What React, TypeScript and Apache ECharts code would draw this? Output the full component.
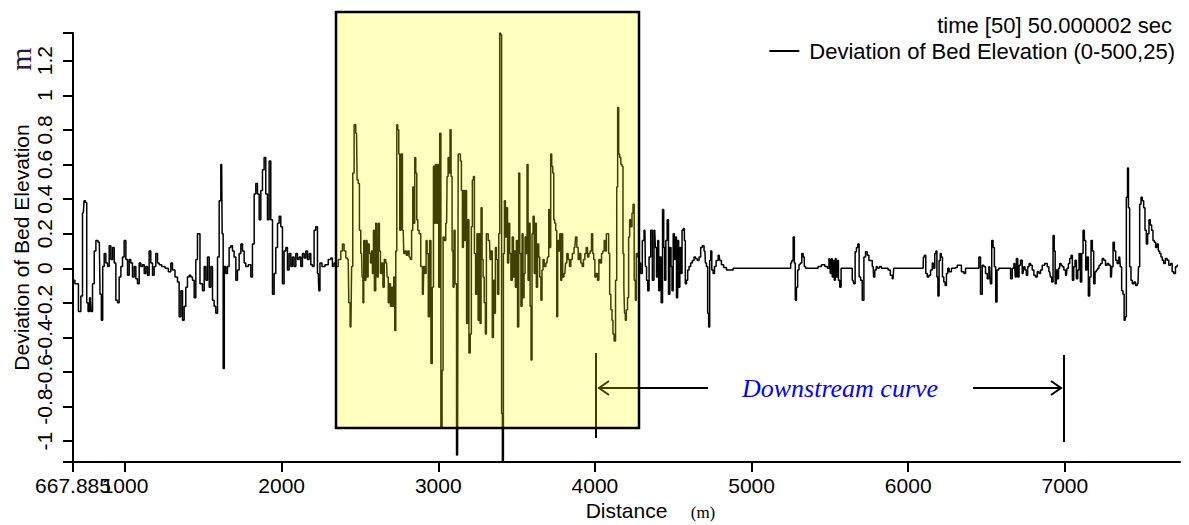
import React, { useEffect, useRef } from "react";
import * as echarts from "echarts";

const seriesName = "Deviation of Bed Elevation (0-500,25)";
const timeLabel = "time [50] 50.000002 sec";

// [distance (m), deviation (m)]
const reachA: [number, number][] = [
  [668, -0.07], [692, -0.09], [713, -0.25], [723, -0.16], [734, 0.32], [743, 0.39], [751, 0.38], [760, -0.2],
  [768, -0.25], [779, -0.17], [787, -0.25], [798, -0.09], [809, 0.1], [819, 0.16], [836, 0.15], [845, -0.15],
  [853, -0.3], [862, 0.01], [872, 0.085], [883, 0.03], [894, 0.01], [904, 0.13], [915, 0.05], [926, 0.12],
  [936, 0.03], [947, -0.185], [957, -0.2], [968, -0.05], [979, 0.01], [989, 0.065], [1000, 0.16], [1011, 0.05],
  [1021, -0.04], [1032, 0.05], [1042, 0.03], [1053, -0.05], [1064, 0.01], [1074, -0.06], [1085, -0.09], [1096, 0.03],
  [1106, 0.01], [1117, 0.02], [1128, -0.03], [1138, 0.01], [1149, -0.04], [1159, 0.1], [1170, 0.03], [1181, -0.04],
  [1191, 0.01], [1202, 0.085], [1213, 0.03], [1223, 0.02], [1245, 0.01], [1266, 0], [1287, -0.02], [1298, 0.03],
  [1308, -0.01], [1330, -0.05], [1340, -0.08], [1351, -0.28], [1362, -0.13], [1372, -0.3], [1383, -0.22], [1393, -0.11],
  [1404, -0.05], [1415, -0.04], [1425, -0.05], [1436, -0.07], [1447, -0.17], [1457, 0.05], [1468, 0.2],
];

const reachB: [number, number][] = [
  [1489, -0.09], [1500, -0.13], [1511, 0.01], [1521, -0.07], [1532, 0.065], [1543, -0.11], [1553, 0.01], [1564, -0.185],
  [1574, -0.22], [1585, -0.26], [1596, 0.065], [1606, 0.39], [1617, 0.6], [1623, 0.2], [1630, -0.58], [1638, 0.01],
  [1649, -0.03], [1659, 0.01], [1670, 0.12], [1681, 0.13], [1691, 0.1], [1702, 0.065], [1713, -0.07], [1723, -0.01],
  [1734, 0.085], [1745, 0.14], [1755, 0.1], [1766, 0.03], [1776, 0.01], [1798, 0.02], [1808, -0.05], [1819, 0.14],
  [1830, 0.43], [1840, 0.49], [1851, 0.43], [1862, 0.28], [1872, 0.45], [1883, 0.57], [1893, 0.64], [1904, 0.43],
  [1915, 0.28], [1925, 0.62], [1936, 0.28], [1947, -0.15], [1957, -0.03], [1968, 0.12], [1979, 0.26], [1989, 0.3],
  [2000, 0.24], [2010, -0.09], [2021, 0.1], [2032, 0.12], [2042, -0.01], [2053, 0.085], [2064, 0.01], [2074, 0.065],
  [2085, 0.01], [2096, 0.085], [2106, 0.05], [2117, 0.065], [2127, 0.01], [2138, 0.085], [2149, 0.06], [2159, 0.1],
  [2170, 0.05], [2181, 0.085], [2191, 0.02], [2202, 0.01], [2212, 0.22], [2223, 0.24], [2234, -0.03], [2240, -0.13],
  [2249, 0.03], [2266, 0.01], [2287, 0.02], [2308, 0.05], [2319, 0.06], [2329, 0.01], [2340, 0.03],
];

const reachC: [number, number][] = [
  [2351, 0.01], [2372, 0.05], [2383, 0.1], [2393, 0.14], [2404, 0.1], [2415, 0.06], [2425, 0.05], [2432, -0.2],
  [2442, -0.34], [2451, 0.01], [2457, 0.55], [2468, 0.83], [2478, 0.78], [2485, 0.51], [2493, 0.49], [2500, 0.22],
  [2510, 0.085], [2517, -0.05], [2521, -0.2], [2527, 0.16], [2534, -0.07], [2542, 0.16], [2549, -0.05], [2555, 0.14],
  [2564, 0.085], [2570, 0.03], [2576, 0.1], [2583, -0.03], [2589, 0.22], [2595, -0.13], [2606, 0.26], [2612, -0.05],
  [2621, 0.26], [2627, 0.1], [2634, -0.03], [2642, 0.03], [2651, -0.11], [2659, 0.05], [2670, 0.03], [2676, -0.05],
  [2685, -0.2], [2691, -0.09], [2698, -0.22], [2706, -0.11], [2712, -0.22], [2719, -0.05], [2725, -0.36], [2732, 0.1],
  [2738, 0.83], [2744, 0.8], [2751, 0.66], [2757, 0.22], [2766, 0.66], [2776, 0.22], [2783, 0.085], [2791, 0.1],
  [2800, 0.075], [2808, 0.1], [2819, 0.065], [2825, 0.05], [2834, 0.22], [2840, 0.47], [2846, 0.26], [2853, 0.64],
  [2859, 0.55], [2866, 0.28], [2872, 0.22], [2883, 0.2], [2893, 0.01], [2904, -0.15], [2910, 0.01], [2919, -0.03],
  [2925, 0.16], [2932, 0.085], [2940, -0.28], [2949, 0.16], [2957, -0.55], [2966, -0.11], [2972, 0.59], [2978, 0.26],
  [2985, 0.6], [2991, 0.26], [3000, 0.6], [3006, -0.11], [3012, 0.78], [3021, -0.92], [3027, -0.59], [3034, 0.18],
  [3042, 0.16], [3053, 0.26], [3059, 0.53], [3066, 0.64], [3072, 0.55], [3078, 0.8], [3085, 0.53], [3091, 0.1],
  [3097, -0.11], [3104, 0.22], [3110, -0.09], [3123, -1.08], [3131, 0.66], [3138, 0.66], [3144, 0.62], [3151, 0.45],
  [3157, 0.12], [3163, 0.45], [3170, 0.16], [3176, 0.45], [3185, -0.32], [3191, 0.28], [3200, -0.49], [3208, -0.38],
  [3214, 0.24], [3221, 0.51], [3227, 0.53], [3234, 0.085], [3242, -0.15], [3251, 0.2], [3257, -0.3], [3263, 0.2],
  [3270, -0.32], [3276, 0.35], [3283, 0.05], [3289, -0.05], [3297, -0.2], [3304, -0.38], [3310, 0.2],
];

const reachD: [number, number][] = [
  [3327, 0.16], [3334, 0.05], [3340, 0.1], [3349, -0.4], [3355, -0.07], [3361, -0.26], [3368, 0.12], [3374, 0.05],
  [3383, -0.15], [3389, 0.2], [3395, 1.36], [3402, 1.35], [3406, -0.84], [3412, -1.12], [3419, 0.085], [3425, 0.39],
  [3432, 0.18], [3438, 0.35], [3446, 0.03], [3453, 0.26], [3459, 0.085], [3468, -0.07], [3476, 0.18], [3483, -0.05],
  [3489, 0.1], [3495, -0.11], [3502, 0.16], [3510, -0.34], [3517, 0.55], [3523, 0.085], [3532, -0.22], [3538, 0.2],
  [3544, -0.17], [3551, -0.03], [3557, 0.18], [3563, 0.085], [3570, 0.6], [3576, -0.07], [3583, 0.26], [3589, -0.22],
  [3595, -0.53], [3602, 0.2], [3608, 0.3], [3617, -0.03], [3623, 0.26], [3629, -0.11], [3638, 0.14], [3644, 0.065],
  [3651, -0.05], [3659, -0.185], [3665, -0.01], [3672, 0.05], [3680, 0.01], [3693, 0.03], [3702, 0.065], [3708, 0.34],
  [3714, 0.12], [3721, 0.66], [3727, 0.59], [3734, 0.55], [3740, 0.28], [3746, 0.26], [3753, 0.22], [3759, -0.28],
  [3765, 0.16], [3772, 0.1], [3778, 0.2], [3785, -0.07], [3791, 0.2], [3797, -0.05], [3808, -0.03], [3816, 0.03],
  [3825, 0.085], [3833, 0.05], [3842, 0.01], [3850, 0.05], [3861, 0.085], [3872, 0.12], [3880, 0.18], [3889, 0.12],
  [3897, 0.05], [3906, 0.085], [3914, 0.03], [3923, 0.01], [3931, 0.05], [3940, 0.085], [3948, 0.12], [3957, 0.065],
  [3965, 0.085], [3974, 0.1], [3982, 0.2], [3989, 0.085], [3995, 0.05], [4004, -0.05], [4012, -0.03], [4021, -0.07],
  [4029, 0.05], [4038, 0.03], [4046, 0.085], [4055, 0.1], [4063, 0.16], [4070, 0.1], [4076, 0.2], [4084, 0.2],
  [4091, 0.085], [4097, -0.15], [4106, -0.24], [4112, -0.3], [4118, -0.38], [4127, -0.42], [4136, -0.07], [4142, 0.47],
  [4148, 0.93], [4155, 0.66], [4161, 0.64], [4170, 0.6], [4176, 0.59], [4182, 0.085], [4187, -0.11], [4191, -0.26],
  [4197, -0.3], [4204, -0.24], [4212, -0.17], [4218, 0.18], [4225, 0.28], [4233, 0.24], [4240, 0.32], [4246, 0.37],
  [4255, -0.07], [4261, -0.185], [4267, 0.085],
];

const reachE: [number, number][] = [
  [4276, 0.065], [4287, 0.03], [4297, -0.03], [4308, 0.16], [4319, 0.22], [4325, 0.01], [4334, -0.07], [4340, -0.13],
  [4351, 0.065], [4361, 0.22], [4372, -0.07], [4382, 0.22], [4389, 0.12], [4397, -0.05], [4404, 0.16], [4410, -0.13],
  [4419, 0.065], [4427, -0.2], [4436, 0.34], [4442, 0.12], [4448, -0.07], [4457, 0.16], [4465, 0.28], [4474, -0.15],
  [4482, 0.12], [4489, 0.01], [4495, -0.13], [4504, 0.2], [4510, 0.05], [4516, 0.18], [4525, -0.17], [4531, 0.16],
  [4538, -0.11], [4546, 0.12], [4553, -0.03], [4559, 0.22], [4568, 0.23], [4574, 0.16], [4580, -0.09], [4589, -0.07],
  [4595, -0.01], [4606, 0.01], [4616, 0.03], [4627, 0.045], [4638, 0.065], [4648, 0.055], [4659, 0.045], [4670, 0.065],
  [4680, 0.12], [4691, 0.13], [4702, 0.1], [4708, 0.03], [4716, 0.01], [4723, -0.26], [4729, -0.34], [4736, 0.045],
  [4742, 0.1], [4750, -0.01], [4759, -0.03], [4767, 0.01], [4780, 0.045], [4793, 0.075], [4801, 0.045], [4814, 0.02],
  [4829, 0.004], [4850, -0.01], [4872, -0.01], [4893, 0], [5244, 0], [5255, 0.03], [5261, 0.045], [5270, 0.18],
  [5276, 0.03], [5282, -0.185], [5291, -0.11], [5297, -0.01], [5308, 0.02], [5316, 0.03], [5325, 0.085], [5333, 0.065],
  [5340, 0.01], [5350, 0], [5414, 0], [5435, 0.01], [5457, 0.02], [5478, 0.01], [5489, 0], [5499, 0.055],
  [5506, -0.03], [5512, 0.055], [5518, -0.05], [5525, 0.045], [5531, -0.07], [5537, 0.055], [5544, -0.05], [5550, 0.045],
  [5559, -0.07], [5567, -0.11], [5576, 0], [5637, 0], [5648, -0.07], [5657, -0.09], [5665, 0.095], [5674, 0.12],
  [5682, 0.14], [5691, -0.05], [5701, -0.07], [5712, -0.185], [5722, 0.065], [5733, 0.095], [5744, 0.075], [5754, 0.045],
  [5765, 0.045], [5776, 0.01], [5782, -0.05], [5791, -0.01], [5801, 0.01], [5810, 0], [5822, 0.01], [5835, 0],
  [5865, 0], [5878, -0.01], [5893, -0.04], [5903, -0.06], [5912, 0], [6095, 0],
];

const reachF: [number, number][] = [
  [6099, 0.065], [6108, 0.075], [6116, -0.03], [6127, -0.05], [6137, -0.04], [6148, -0.01], [6159, 0.03], [6165, 0],
  [6174, 0.085], [6180, 0.1], [6186, -0.05], [6193, -0.16], [6201, 0.045], [6208, 0.085], [6214, 0.065], [6223, -0.05],
  [6231, -0.08], [6240, -0.1], [6248, -0.03], [6257, 0], [6265, -0.02], [6286, 0], [6308, 0.004], [6318, 0.017],
  [6329, 0.017], [6350, -0.02], [6361, -0.03], [6371, 0], [6446, 0], [6456, 0.065], [6467, -0.15], [6478, 0.017],
  [6488, 0.008], [6499, -0.03], [6510, -0.06], [6520, 0.008], [6529, -0.09], [6537, 0.16], [6546, 0.12], [6554, 0.008],
  [6563, -0.195], [6571, -0.01], [6584, 0], [6648, 0], [6659, -0.06], [6669, 0], [6680, 0.027], [6686, -0.05],
  [6695, 0.056], [6703, -0.05], [6712, 0.017], [6722, 0.046], [6733, -0.03], [6741, 0.008], [6750, -0.01], [6758, -0.04],
  [6767, 0.008], [6776, 0.027], [6786, 0.017], [6797, -0.01], [6807, -0.04], [6818, -0.05], [6829, -0.02], [6839, -0.03],
  [6850, -0.01], [6861, 0.017], [6882, 0.027], [6893, 0.008], [6903, -0.02], [6912, -0.05], [6920, -0.08], [6929, 0.19],
  [6935, 0.1], [6941, -0.09], [6950, -0.01], [6956, -0.06], [6963, 0], [6971, 0.027], [6980, 0.017], [6988, 0.008],
  [6999, -0.01], [7010, -0.04], [7018, 0], [7027, 0.027], [7035, 0.056], [7044, 0.075], [7052, -0.07], [7061, 0.008],
  [7069, 0.046], [7078, -0.06], [7086, -0.01], [7095, 0.085], [7103, -0.08], [7112, 0.085], [7120, 0.22], [7129, 0.16],
  [7137, -0.01], [7146, 0.065], [7154, -0.16], [7163, -0.05], [7171, 0.16], [7180, 0.1], [7188, -0.09], [7197, -0.02],
  [7205, -0.01], [7214, 0], [7222, 0.017], [7233, 0.027], [7243, 0.056], [7254, 0.046], [7265, 0.017], [7275, 0.027],
  [7286, 0.017], [7297, -0.05], [7303, 0.008], [7312, 0.15], [7320, 0.1], [7329, 0.046], [7339, 0.027], [7350, 0.065],
  [7358, 0.008], [7367, -0.13], [7375, -0.15], [7382, -0.3], [7388, -0.28], [7397, 0.41], [7403, 0.58], [7409, 0.35],
  [7418, 0.008], [7426, -0.07], [7435, -0.09], [7446, -0.08], [7456, -0.1], [7467, -0.09], [7473, 0.008], [7482, 0.37],
  [7490, 0.41], [7499, 0.39], [7507, 0.35], [7516, 0.22], [7524, 0.14], [7533, 0.2], [7541, 0.28], [7550, 0.25],
  [7558, 0.22], [7567, 0.16], [7575, 0.15], [7584, 0.12], [7592, 0.14], [7601, 0.1], [7609, 0.085], [7618, 0.065],
  [7626, 0.046], [7635, 0.027], [7648, 0.056], [7658, 0.046], [7669, 0.017], [7680, 0.027], [7690, -0.02], [7701, -0.03],
  [7711, 0.008], [7722, 0.017],
];

const xMin = 667.885;
const xMax = 7735;
const yMin = -1.12;
const yMax = 1.36;
const xLabelValues = [1000, 2000, 3000, 4000, 5000, 6000, 7000];
const yLabelValues = [-1, -0.8, -0.6, -0.4, -0.2, 0, 0.2, 0.4, 0.6, 0.8, 1, 1.2];

const sans = "Liberation Sans, Arial, sans-serif";
const serif = "Liberation Serif, Times New Roman, serif";

export default function App() {
  const ref = useRef<HTMLDivElement>(null);
  useEffect(() => {
    document.body.style.margin = "0";
    if (!ref.current) return;
    const chart = echarts.init(ref.current, undefined, { renderer: "svg" });
    const data = [...reachA, ...reachB, ...reachC, ...reachD, ...reachE, ...reachF];
    const axisColor = "#000";
    const labelStyle = { fontFamily: sans, fontSize: 21, color: "#000" };
    const option: any = {
      animation: false,
      backgroundColor: "#fff",
      title: {
        text: timeLabel,
        right: 17,
        top: 14,
        padding: 0,
        textStyle: { fontFamily: sans, fontSize: 22, fontWeight: "normal", color: "#000" },
      },
      legend: {
        data: [seriesName],
        right: 14,
        top: 40,
        padding: 0,
        icon: "rect",
        itemWidth: 30,
        itemHeight: 2,
        itemStyle: { color: "#000" },
        textStyle: { fontFamily: sans, fontSize: 22, color: "#000", padding: [0, 0, 0, 5] },
      },
      grid: { left: 73, right: 9, top: 33, bottom: 63, outerBoundsMode: "none", containLabel: false },
      xAxis: [
        {
          type: "value",
          min: xMin,
          max: xMax,
          position: "bottom",
          name: "Distance",
          nameLocation: "middle",
          nameGap: 38,
          nameMoveOverlap: false,
          nameTextStyle: labelStyle,
          axisLine: { show: true, onZero: false, lineStyle: { color: axisColor, width: 2 } },
          axisTick: {
            show: true,
            length: 10,
            customValues: [xMin, ...xLabelValues],
            lineStyle: { color: axisColor, width: 2 },
          },
          axisLabel: {
            customValues: xLabelValues,
            showMinLabel: true,
            showMaxLabel: true,
            hideOverlap: false,
            margin: 13,
            ...labelStyle,
            formatter: (v: number) => String(Math.round(v)),
          },
          splitLine: { show: false },
        },
        {
          type: "value",
          min: xMin,
          max: xMax,
          position: "bottom",
          offset: 0,
          axisLine: { show: false },
          axisTick: { show: false },
          axisLabel: {
            customValues: [xMin],
            showMinLabel: true,
            hideOverlap: false,
            margin: 13,
            ...labelStyle,
            formatter: () => "667.885",
          },
          splitLine: { show: false },
        },
      ],
      yAxis: {
        type: "value",
        min: yMin,
        max: yMax,
        name: "Deviation of Bed Elevation",
        nameLocation: "middle",
        nameRotate: 90,
        nameGap: 41,
        nameMoveOverlap: false,
        nameTextStyle: labelStyle,
        axisLine: { show: true, onZero: false, lineStyle: { color: axisColor, width: 2 } },
        axisTick: {
          show: true,
          length: 10,
          customValues: [yMin, ...yLabelValues, yMax],
          lineStyle: { color: axisColor, width: 2 },
        },
        axisLabel: {
          customValues: yLabelValues,
          rotate: 90,
          showMinLabel: true,
          showMaxLabel: true,
          hideOverlap: false,
          margin: 18,
          ...labelStyle,
          formatter: (v: number) => String(Math.round(v * 10) / 10),
        },
        splitLine: { show: false },
      },
      series: [
        {
          name: seriesName,
          type: "line",
          xAxisIndex: 0,
          data,
          step: "middle",
          symbol: "none",
          lineStyle: { color: "#000", width: 1.5 },
          itemStyle: { color: "#000" },
          z: 2,
        },
      ],
      graphic: [
        {
          type: "text",
          x: 20,
          y: 59,
          rotation: Math.PI / 2,
          z: 10,
          style: { text: "m", font: `30px ${serif}`, fill: "#2a1840", align: "center", verticalAlign: "middle" },
        },
        {
          type: "text",
          x: 703,
          y: 512,
          z: 10,
          style: { text: "(m)", font: `17px ${serif}`, fill: "#000", align: "center", verticalAlign: "middle" },
        },
        { type: "line", z: 50, shape: { x1: 596, y1: 353, x2: 596, y2: 438 }, style: { stroke: "#000", lineWidth: 2 } },
        { type: "line", z: 50, shape: { x1: 1064, y1: 355, x2: 1064, y2: 442 }, style: { stroke: "#000", lineWidth: 2 } },
        { type: "line", z: 50, shape: { x1: 599, y1: 388, x2: 708, y2: 388 }, style: { stroke: "#000", lineWidth: 2 } },
        {
          type: "polyline",
          z: 50,
          shape: { points: [[609, 381], [599, 388], [609, 395]] },
          style: { stroke: "#000", lineWidth: 2, fill: null },
        },
        { type: "line", z: 50, shape: { x1: 973, y1: 388, x2: 1061, y2: 388 }, style: { stroke: "#000", lineWidth: 2 } },
        {
          type: "polyline",
          z: 50,
          shape: { points: [[1051, 381], [1061, 388], [1051, 395]] },
          style: { stroke: "#000", lineWidth: 2, fill: null },
        },
        {
          type: "text",
          x: 840,
          y: 388,
          z: 50,
          style: {
            text: "Downstream curve",
            font: `italic 26px ${serif}`,
            fill: "#0000ff",
            align: "center",
            verticalAlign: "middle",
          },
        },
        {
          type: "rect",
          z: 100,
          shape: { x: 336, y: 12, width: 303, height: 416 },
          style: { fill: "rgba(255,255,0,0.25)", stroke: "#000", lineWidth: 2.5 },
        },
      ],
    };
    chart.setOption(option);
    return () => chart.dispose();
  }, []);
  return <div ref={ref} style={{ width: 1189, height: 525 }} />;
}
